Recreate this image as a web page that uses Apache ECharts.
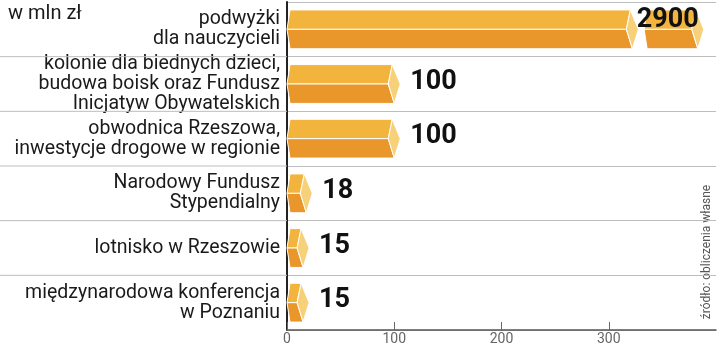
<!DOCTYPE html>
<html>
<head>
<meta charset="utf-8">
<script src="https://cdn.jsdelivr.net/npm/echarts@6.0.0/dist/echarts.min.js"></script>
<style>
html,body{margin:0;padding:0;background:#fff;}
#chart{width:720px;height:347px;}
</style>
</head>
<body>
<div id="chart"></div>
<script>
// ---- data ----
const categories = [
  'podwyżki\ndla nauczycieli',
  'kolonie dla biednych dzieci,\nbudowa boisk oraz Fundusz\nInicjatyw Obywatelskich',
  'obwodnica Rzeszowa,\ninwestycje drogowe w regionie',
  'Narodowy Fundusz\nStypendialny',
  'lotnisko w Rzeszowie',
  'międzynarodowa konferencja\nw Poznaniu'
];
const values = [2900, 100, 100, 18, 15, 15];
const xTicks = [0, 100, 200, 300];
const unitLabel = 'w mln zł';
const sourceLabel = 'źródło: obliczenia własne';

// axis display settings (values beyond axisMax are drawn with a break)
const axisMax = 400;
const breakFrom = 322, breakTo = 333, breakShow = 383;

const C_UP = '#F3B43E', C_LOW = '#E9962B', C_CAP = '#F7D07A';

function renderItem(params, api) {
  const v = api.value(0);
  const idx = api.value(1);
  const bandH = api.size([0, 1])[1];
  const h = bandH * 0.71;
  const p0 = api.coord([0, idx]);
  const x0 = p0[0], yc = p0[1];
  const top = yc - h / 2, bot = yc + h / 2;
  const children = [];

  function prism(xa, xb) {
    const a = 3;
    children.push({type:'polygon', shape:{points:[[xa + a, top],[xb - 2, top],[xb - 6, yc],[xa, yc]]},
      style:{fill:C_UP, stroke:'#fff', lineWidth:1}});
    children.push({type:'polygon', shape:{points:[[xa, yc],[xb - 6, yc],[xb, bot],[xa + a, bot]]},
      style:{fill:C_LOW, stroke:'#fff', lineWidth:1}});
    children.push({type:'polygon', shape:{points:[[xb - 2, top],[xb + 6, yc],[xb, bot],[xb - 6, yc]]},
      style:{fill:C_CAP, stroke:'#fff', lineWidth:1}});
    return xb + 6;
  }

  // row separator extending into the label area
  if (idx > 0) {
    const yb = yc - bandH / 2;
    children.push({type:'line', shape:{x1:0, y1:yb, x2:x0, y2:yb},
      style:{stroke:'#bdbdbd', lineWidth:1}});
  }

  if (v > axisMax) {
    prism(x0, api.coord([breakFrom, idx])[0]);
    const xe = api.coord([breakShow, idx])[0];
    prism(api.coord([breakTo, idx])[0], xe);
    children.push({type:'text', style:{text:String(v), x:xe + 1, y:yc - 9,
      align:'right', verticalAlign:'middle', fill:'#111',
      font:'bold 27px Roboto, "DejaVu Sans", sans-serif'}});
  } else {
    const tip = prism(x0, api.coord([v, idx])[0]);
    children.push({type:'text', style:{text:String(v), x:tip + 10, y:yc - 2,
      align:'left', verticalAlign:'middle', fill:'#111',
      font:'bold 27px Roboto, "DejaVu Sans", sans-serif'}});
  }
  return {type:'group', children};
}

const chart = echarts.init(document.getElementById('chart'), null, {renderer:'canvas'});
chart.setOption({
  animation:false,
  backgroundColor:'#fff',
  grid:{left:287, right:4, top:2, bottom:17, containLabel:false},
  xAxis:{
    type:'value', min:0, max:axisMax, interval:100,
    axisLine:{show:true, lineStyle:{color:'#555', width:1.5}},
    axisTick:{show:true, inside:true, length:8, lineStyle:{color:'#666'}},
    splitLine:{show:false},
    axisLabel:{color:'#666', fontSize:14, margin:2, fontFamily:'Roboto',
      showMaxLabel:false,
      formatter:function(val){ return xTicks.indexOf(val) >= 0 ? String(val) : ''; }}
  },
  yAxis:{
    type:'category', data:categories, inverse:true,
    axisLine:{show:true, lineStyle:{color:'#222', width:2}},
    axisTick:{show:false},
    splitLine:{show:true, lineStyle:{color:'#bdbdbd', width:1}},
    axisLabel:{color:'#1a1a1a', fontSize:19.5, lineHeight:20, margin:7, align:'right',
      fontFamily:'Roboto'}
  },
  graphic:[
    {type:'text', left:8, top:4, style:{text:unitLabel, fill:'#1a1a1a', font:'20px Roboto'}},
    {type:'text', x:707, y:252, rotation:Math.PI/2,
      style:{text:sourceLabel, fill:'#555', font:'12px Roboto', align:'center', verticalAlign:'middle'}}
  ],
  series:[{
    type:'custom', clip:false, renderItem:renderItem,
    encode:{x:0, y:1},
    data:values.map(function(v, i){ return [v, i]; })
  }]
});
</script>
</body>
</html>
